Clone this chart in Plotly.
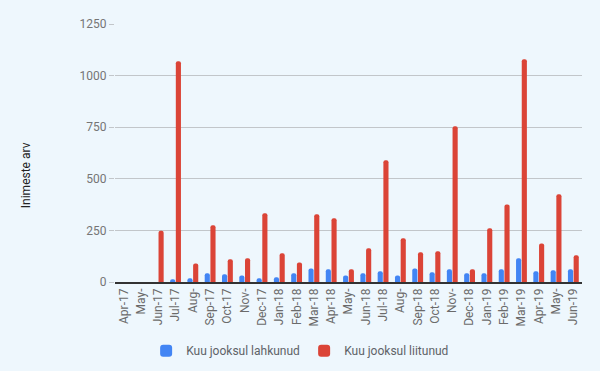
import plotly.graph_objects as go

months = ["Apr-17", "May-", "Jun-17", "Jul-17", "Aug-", "Sep-17", "Oct-17", "Nov-",
          "Dec-17", "Jan-18", "Feb-18", "Mar-18", "Apr-18", "May-", "Jun-18", "Jul-18",
          "Aug-", "Sep-18", "Oct-18", "Nov-", "Dec-18", "Jan-19", "Feb-19", "Mar-19",
          "Apr-19", "May-", "Jun-19"]
# unique category keys (some displayed labels repeat)
keys = [f"{i}" for i in range(len(months))]

lahkunud = [0, 0, 0, 13, 18, 42, 37, 32, 18, 23, 42, 66, 62, 32, 42, 52, 32, 66, 47,
            62, 42, 42, 62, 115, 52, 57, 62]
liitunud = [0, 0, 248, 1070, 90, 275, 110, 115, 333, 139, 95, 328, 309, 62, 163, 590,
            212, 144, 149, 754, 62, 260, 376, 1079, 187, 425, 129]

y_ticks = [0, 250, 500, 750, 1000, 1250]

bg = "#eef7fd"
fig = go.Figure()
fig.add_trace(go.Bar(x=keys, y=lahkunud, name="Kuu jooksul lahkunud",
                     marker=dict(color="#4285f4", line=dict(width=0))))
fig.add_trace(go.Bar(x=keys, y=liitunud, name="Kuu jooksul liitunud",
                     marker=dict(color="#db4437", line=dict(width=0))))

fig.update_layout(
    width=600, height=371, autosize=False,
    paper_bgcolor=bg, plot_bgcolor=bg,
    margin=dict(l=115, r=18, t=24, b=89, autoexpand=False),
    font=dict(family="Roboto", size=12, color="#6b6b6b"),
    barmode="group", bargap=0.34, bargroupgap=0.1,
    barcornerradius=2,
    showlegend=True,
    legend=dict(orientation="h", x=0.405, xanchor="center", y=-0.21, yanchor="top",
                font=dict(size=12, color="#5f6368"), itemwidth=30,
                entrywidth=113, entrywidthmode="pixels",
                bgcolor="rgba(0,0,0,0)"),
    xaxis=dict(tickmode="array", tickvals=keys, ticktext=months, tickangle=-90,
               showgrid=False, showline=True, linecolor="#333333", linewidth=1.5,
               ticks="", tickfont=dict(size=12, color="#6b6b6b"), fixedrange=True,
               automargin=False),
    yaxis=dict(range=[0, 1250], tickvals=y_ticks, showgrid=True, gridcolor="#c2c6ca",
               gridwidth=1, zeroline=False, showline=False, ticks="outside",
               ticklen=5, tickcolor="#c2c6ca", tickfont=dict(size=12, color="#757575"),
               fixedrange=True, automargin=False),
    annotations=[dict(text="Inimeste arv", xref="paper", yref="paper", x=-0.19, y=0.415,
                      xanchor="center", yanchor="middle", textangle=-90, showarrow=False,
                      font=dict(size=12, color="#222222"))],
)
fig.write_html(
    "out.html",
    config={"displayModeBar": False},
    post_script="document.body.style.margin='0';document.body.style.background='%s';"
                "document.body.style.overflow='hidden';" % bg,
)
